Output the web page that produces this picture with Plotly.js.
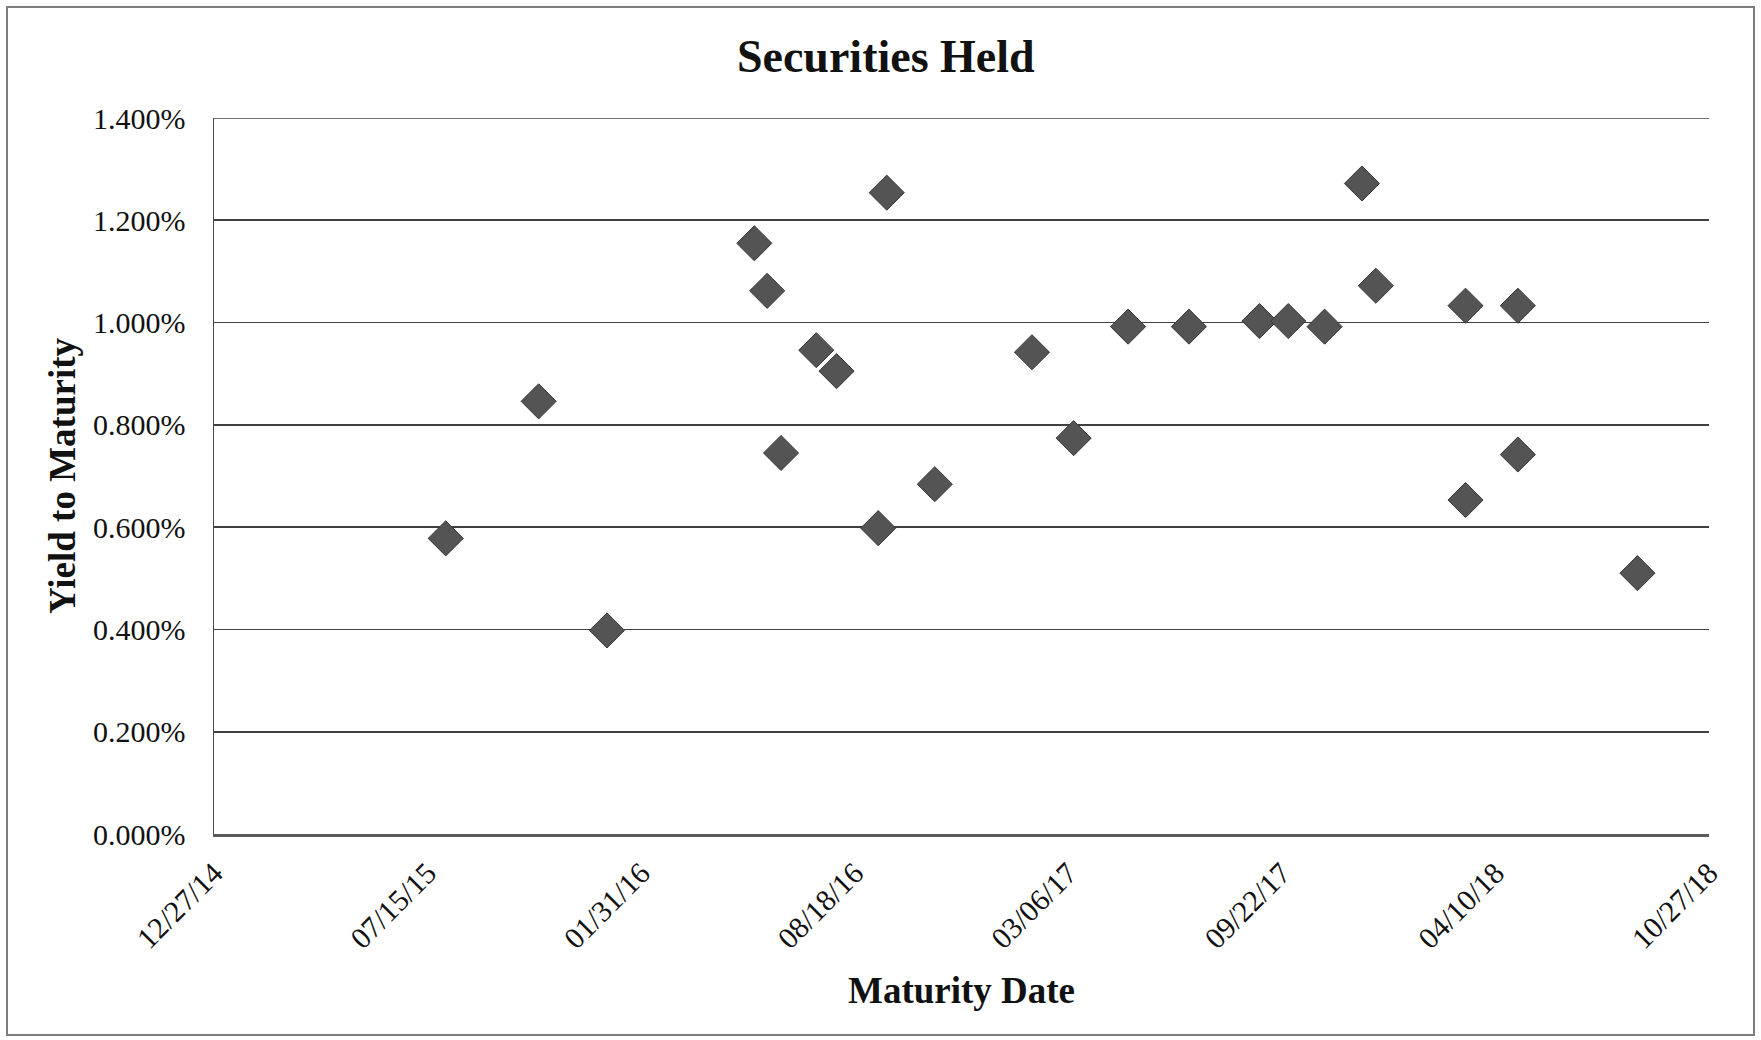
<!DOCTYPE html>
<html>
<head>
<meta charset="utf-8">
<script src="https://cdn.plot.ly/plotly-3.0.1.min.js"></script>
<style>
  html, body { margin: 0; padding: 0; background: #ffffff; }
  #wrap { position: relative; width: 1761px; height: 1040px; }
  #chart { position: absolute; left: 0; top: 0; width: 1761px; height: 1040px; }
  #frame { position: absolute; left: 6px; top: 6px; width: 1745px; height: 1026px;
           border: 2px solid #7d7d7d; pointer-events: none; }
</style>
</head>
<body>
<div id="wrap">
  <div id="chart"></div>
  <div id="frame"></div>
</div>
<script>
// Maturity dates of the securities held
const maturityDates = [
  '2015-08-01', '2015-10-27', '2015-12-30', '2016-05-16', '2016-05-28',
  '2016-06-10', '2016-07-13', '2016-08-01', '2016-09-09', '2016-09-17',
  '2016-11-01', '2017-01-31', '2017-03-11', '2017-05-01', '2017-06-27',
  '2017-09-01', '2017-09-28', '2017-11-01', '2017-12-06', '2017-12-19',
  '2018-03-13', '2018-03-13', '2018-05-01', '2018-05-01', '2018-08-21'
];
// Yield to maturity, in percent
const yieldPct = [
  0.578, 0.846, 0.398, 1.155, 1.062,
  0.745, 0.946, 0.905, 0.598, 1.254,
  0.684, 0.942, 0.774, 0.992, 0.992,
  1.003, 1.003, 0.992, 1.272, 1.072,
  1.033, 0.653, 1.033, 0.742, 0.510
];
// Axis settings
const xRange = ['2014-12-27', '2018-10-27'];
const xTick0 = '2014-12-27';
const xTickDays = 200;
const yRange = [0, 1.4];
const yTickStep = 0.2;

const serif = 'Liberation Serif, Times New Roman, serif';
const gridColor = '#404040';
const gridWidth = 1.7;

const trace = {
  type: 'scatter',
  mode: 'markers',
  x: maturityDates,
  y: yieldPct,
  marker: {
    symbol: 'diamond',
    size: 27,
    color: '#545454',
    line: { color: '#383838', width: 1 }
  },
  hoverinfo: 'x+y'
};

const layout = {
  width: 1761,
  height: 1040,
  paper_bgcolor: '#ffffff',
  plot_bgcolor: '#ffffff',
  margin: { l: 214, r: 52, t: 118, b: 206 },
  showlegend: false,
  font: { family: serif, color: '#111111' },
  title: {
    text: '<b>Securities Held</b>',
    font: { family: serif, size: 46, color: '#111111' },
    xref: 'container', yref: 'container',
    x: 0.503, xanchor: 'center',
    y: 0.946, yanchor: 'middle'
  },
  xaxis: {
    type: 'date',
    range: xRange,
    tick0: xTick0,
    dtick: xTickDays * 86400000,
    tickformat: '%m/%d/%y',
    tickangle: -45,
    tickfont: { family: serif, size: 30, color: '#111111' },
    ticks: '',
    ticklabelstandoff: 7,
    showgrid: false,
    zeroline: false,
    showline: true,
    linecolor: '#5a5a5a',
    linewidth: 2.5,
    title: {
      text: '<b>Maturity Date</b>',
      font: { family: serif, size: 37, color: '#111111' },
      standoff: 24
    }
  },
  yaxis: {
    range: yRange,
    dtick: yTickStep,
    tick0: 0,
    tickformat: '.3f',
    ticksuffix: '%',
    tickfont: { family: serif, size: 30, color: '#111111' },
    ticks: '',
    ticklabelstandoff: 21,
    showgrid: true,
    gridcolor: gridColor,
    gridwidth: gridWidth,
    zeroline: false,
    showline: true,
    linecolor: '#4a4a4a',
    linewidth: 1.5,
    title: {
      text: '<b>Yield to Maturity</b>',
      font: { family: serif, size: 37, color: '#111111' },
      standoff: 6
    }
  },
  // top gridline at the axis maximum (Plotly skips the gridline on the plot edge)
  shapes: [{
    type: 'line', layer: 'below',
    xref: 'paper', x0: 0, x1: 1,
    yref: 'y', y0: yRange[1], y1: yRange[1],
    line: { color: gridColor, width: gridWidth }
  }]
};

Plotly.newPlot('chart', [trace], layout, { displayModeBar: false, staticPlot: true });
</script>
</body>
</html>
